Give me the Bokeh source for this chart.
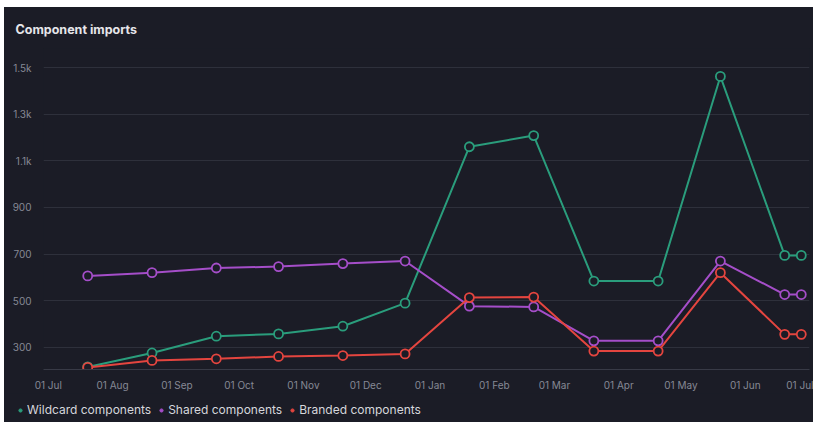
from datetime import datetime
from bokeh.plotting import figure
from bokeh.layouts import column
from bokeh.models import (ColumnDataSource, Range1d, FixedTicker, MonthsTicker,
                          DatetimeTickFormatter, Legend, LegendItem)
from bokeh.embed import file_html
from bokeh.resources import INLINE

# ---- data ----
dates = ["2023-07-20", "2023-08-20", "2023-09-20", "2023-10-20", "2023-11-20",
         "2023-12-20", "2024-01-20", "2024-02-20", "2024-03-20", "2024-04-20",
         "2024-05-20", "2024-06-20", "2024-06-28"]
wildcard = [215, 275, 347, 357, 390, 489, 1161, 1209, 584, 584, 1463, 694, 694]
shared = [606, 620, 640, 646, 659, 670, 476, 473, 327, 327, 670, 526, 526]
branded = [213, 243, 250, 260, 264, 271, 513, 515, 283, 283, 620, 355, 355]
series_names = ["Wildcard components", "Shared components", "Branded components"]
y_ticks = [300, 500, 700, 900, 1100, 1300, 1500]
y_tick_labels = ["300", "500", "700", "900", "1.1k", "1.3k", "1.5k"]

BG = "#1b1c26"
COLORS = ["#2a9d7c", "#a54ec9", "#e4453f"]
FONT = "Inter"

xs = [datetime.strptime(d, "%Y-%m-%d") for d in dates]
src = ColumnDataSource(dict(x=xs, w=wildcard, s=shared, b=branded))

p = figure(width=809, height=386, x_axis_type="datetime",
           output_backend="svg", toolbar_location=None,
           x_range=Range1d(datetime(2023, 6, 28, 16, 30), datetime(2024, 7, 1, 23, 0)),
           y_range=Range1d(204, 1583),
           background_fill_color=BG, border_fill_color=BG,
           outline_line_color=None,
           min_border_left=39, min_border_right=4, min_border_top=41,
           min_border_bottom=22)

p.title.text = "Component imports"
p.title.text_font = FONT
p.title.text_font_size = "12.5px"
p.title.text_font_style = "bold"
p.title.text_color = "#e6e6ea"
p.title.offset = -28
p.title.standoff = 23

# y axis
p.yaxis.ticker = FixedTicker(ticks=y_ticks)
p.yaxis.major_label_overrides = {t: l for t, l in zip(y_ticks, y_tick_labels)}
p.yaxis.axis_line_color = None
p.yaxis.major_tick_line_color = None
p.yaxis.minor_tick_line_color = None
p.yaxis.major_label_text_color = "#868995"
p.yaxis.major_label_text_font = FONT
p.yaxis.major_label_text_font_size = "10px"
p.yaxis.major_label_standoff = 6
p.ygrid.ticker = FixedTicker(ticks=y_ticks)
p.ygrid.grid_line_color = "#2e303b"
p.ygrid.grid_line_width = 1

# x axis
p.xaxis.ticker = MonthsTicker(months=list(range(12)))
p.xaxis.formatter = DatetimeTickFormatter(months="%d %b", days="%d %b")
p.xaxis.axis_line_color = "#383a46"
p.xaxis.major_tick_line_color = None
p.xaxis.minor_tick_line_color = None
p.xaxis.major_label_text_color = "#868995"
p.xaxis.major_label_text_font = FONT
p.xaxis.major_label_text_font_size = "10px"
p.xaxis.major_label_standoff = 3
p.xgrid.grid_line_color = None

cols = ["w", "s", "b"]
for col, c in zip(cols, COLORS):
    p.line("x", col, source=src, line_color=c, line_width=2)
    p.scatter("x", col, source=src, size=9, line_color=c, line_width=1.8,
              fill_color=BG)

# legend strip below the chart
lg = figure(width=809, height=29, output_backend="svg", toolbar_location=None,
            x_range=Range1d(0, 1), y_range=Range1d(0, 1),
            background_fill_color=BG, border_fill_color=BG,
            outline_line_color=None, min_border=0)
lg.axis.visible = False
lg.grid.visible = False
for fig in (p, lg):
    if "frame_align" in fig.properties():
        fig.frame_align = False

legend_items = []
for col, name, c in zip(cols, series_names, COLORS):
    dummy = lg.scatter("x", col, source=src, size=8, fill_color=c, line_color=c,
                       visible=False)
    legend_items.append(LegendItem(label=name, renderers=[dummy]))

legend = Legend(items=legend_items, orientation="horizontal", location=(12, 5),
                background_fill_alpha=0,
                border_line_color=None, label_text_color="#d6d7dc",
                label_text_font=FONT, label_text_font_size="12px",
                glyph_width=8, glyph_height=8, label_standoff=3, spacing=6,
                padding=0, margin=0, label_height=14,
                inactive_fill_alpha=0)
lg.add_layout(legend, "center")

layout = column(p, lg, spacing=0)
layout.margin = (7, 0, 0, 4)
layout.styles = {"background-color": BG}

open("out.html", "w").write(file_html(layout, INLINE))
